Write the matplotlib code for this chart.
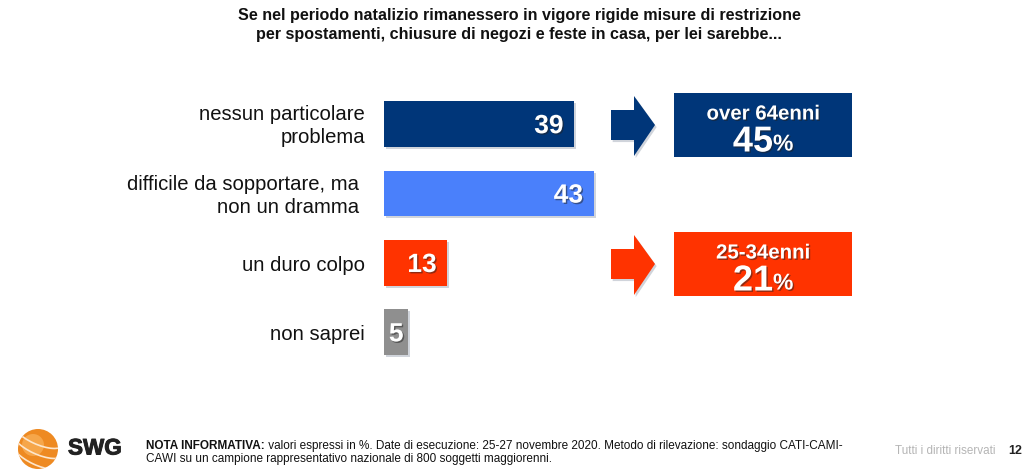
import matplotlib
matplotlib.use('Agg')
import matplotlib.pyplot as plt
import matplotlib.patheffects as pe
from matplotlib.patches import Polygon, Rectangle, Circle, Arc

plt.rcParams['font.family'] = ['Liberation Sans', 'DejaVu Sans']

# Dati del grafico
categorie = ['nessun particolare\nproblema', 'difficile da sopportare, ma\nnon un dramma', 'un duro colpo', 'non saprei']
valori = [39, 43, 13, 5]
colori = ['#003679', '#4a80fb', '#ff3300', '#8f8f8f']

callout_label = ['over 64enni', '25-34enni']
callout_valore = ['45', '21']
callout_riga = [0, 2]

titolo = ('Se nel periodo natalizio rimanessero in vigore rigide misure di restrizione\n'
          'per spostamenti, chiusure di negozi e feste in casa, per lei sarebbe...')
nota_b = 'NOTA INFORMATIVA:'
nota_1 = ' valori espressi in %. Date di esecuzione: 25-27 novembre 2020. Metodo di rilevazione: sondaggio CATI-CAMI-'
nota_2 = 'CAWI su un campione rappresentativo nazionale di 800 soggetti maggiorenni.'

W, H = 1035, 473
fig = plt.figure(figsize=(W / 100, H / 100), dpi=100, facecolor='white')

# overlay in pixel per frecce, riquadri e piede pagina
ov = fig.add_axes([0, 0, 1, 1])
ov.set_xlim(0, W)
ov.set_ylim(H, 0)
ov.axis('off')

# asse delle barre: 4.88 px per punto percentuale
ax = fig.add_axes([384 / W, 1 - 367 / H, 488 / W, 277.6 / H])
ax.patch.set_alpha(0)
ax.set_xlim(0, 100)
ax.set_ylim(3.5, -0.5)
ax.axis('off')

ombra = [pe.SimplePatchShadow(offset=(1.2, -1.5), shadow_rgbFace='#8a94a6', alpha=0.4), pe.Normal()]
ombra_txt = [pe.SimplePatchShadow(offset=(1, -1), shadow_rgbFace='#222222', alpha=0.5), pe.Normal()]

bars = ax.barh(range(len(valori)), valori, height=0.66, color=colori)
for b, v in zip(bars, valori):
    b.set_path_effects(ombra)
    margine = 2.2 if v > 5 else 1.0
    ax.text(v - margine, b.get_y() + b.get_height() / 2 + 0.03, str(v), ha='right',
            va='center', color='white', fontsize=19, fontweight='bold', path_effects=ombra_txt)

# etichette delle categorie, allineate a destra
destra = [365, 359, 365, 365]
for i, c in enumerate(categorie):
    y = 124 + i * 69.6
    ov.text(destra[i], y + 2, c, ha='right', va='center', fontsize=14.6, color='#111111', linespacing=1.28)

# frecce e riquadri
for lab, val, r in zip(callout_label, callout_valore, callout_riga):
    cy = 125 + r * 69.5
    col = colori[r]
    pts = [(611, cy - 15), (634, cy - 15), (634, cy - 29), (655, cy), (634, cy + 31), (634, cy + 15), (611, cy + 15)]
    ov.add_patch(Polygon(pts, closed=True, facecolor=col, edgecolor='none', path_effects=ombra))
    ov.add_patch(Rectangle((674, cy - 32), 178, 64, facecolor=col, edgecolor='none'))
    ov.text(763, cy - 11, lab, ha='center', va='center', color='white', fontsize=14.7,
            fontweight='bold', path_effects=ombra_txt)
    ov.text(753, cy + 17, val, ha='center', va='center', color='white', fontsize=26,
            fontweight='bold', path_effects=ombra_txt)
    ov.text(773, cy + 19, '%', ha='left', va='center', color='white', fontsize=16.5,
            fontweight='bold', path_effects=ombra_txt)

# titolo
ov.text(519, 25, titolo, ha='center', va='center', fontsize=11.6, fontweight='bold', color='#111111', linespacing=1.3)

# logo SWG
sfera = Circle((38, 449), 20, facecolor='#ee8a22', edgecolor='none')
ov.add_patch(sfera)
luce = Circle((33, 445), 11, facecolor='#f6a64a', edgecolor='none')
ov.add_patch(luce)
for dy in (-16, -6, 5):
    arco = Arc((38, 449 + dy), 56, 22, angle=25, theta1=0, theta2=180, color='#fde6cc', lw=1.2)
    ov.add_patch(arco)
    arco.set_clip_path(sfera)
ov.text(68, 449, 'SWG', ha='left', va='center', fontsize=16.2, fontweight='bold', color='#222222',
        path_effects=[pe.withStroke(linewidth=0.7, foreground='#222222')])

# nota informativa
tb = ov.text(146, 445.5, nota_b, ha='left', va='center', fontsize=8.45, fontweight='bold', color='#111111')
fig.canvas.draw()
bb = tb.get_window_extent()
ov.text(bb.x1, 445.5, nota_1, ha='left', va='center', fontsize=8.45, color='#111111')
ov.text(146, 459, nota_2, ha='left', va='center', fontsize=8.45, color='#111111')

ov.text(895, 451, 'Tutti i diritti riservati', ha='left', va='center', fontsize=8.4, color='#b5b5b5')
ov.text(1008, 451, '12', ha='left', va='center', fontsize=9, fontweight='bold', color='#222222')

fig.savefig('out.png', dpi=100)
